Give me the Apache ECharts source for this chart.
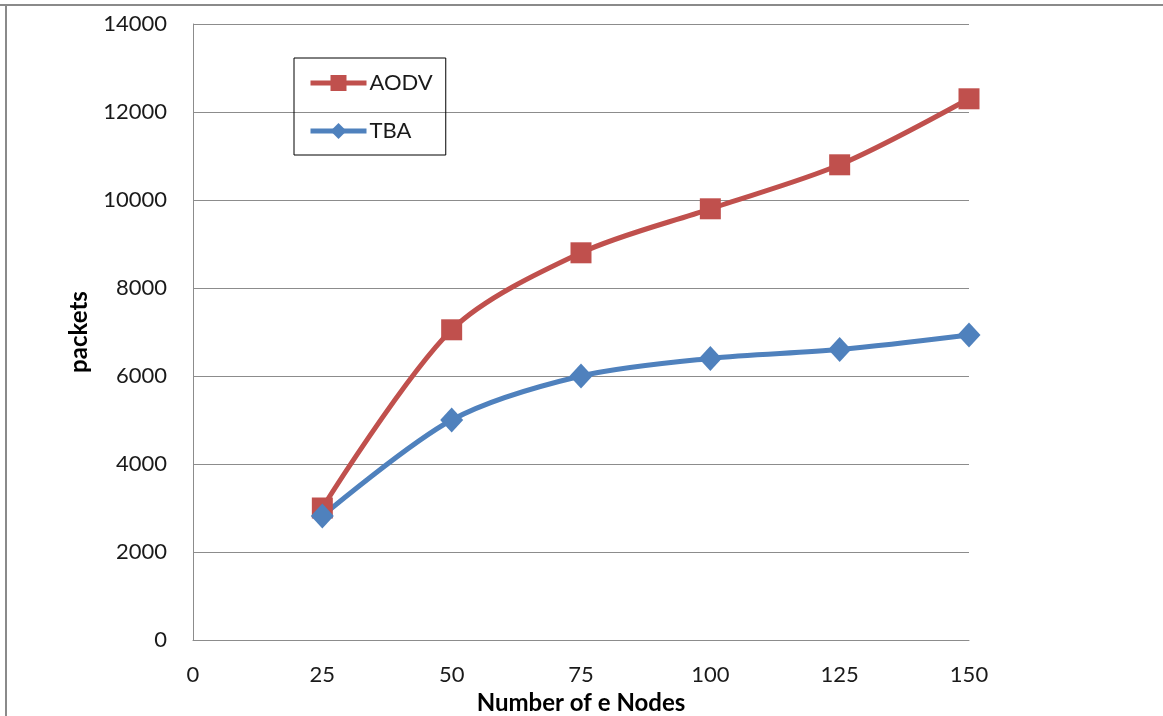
<!DOCTYPE html>
<html>
<head>
<meta charset="utf-8">
<script src="https://cdn.jsdelivr.net/npm/echarts@6/dist/echarts.min.js"></script>
<style>
  html, body { margin: 0; padding: 0; background: #fff; }
  #chart { width: 1163px; height: 716px; }
</style>
</head>
<body>
<div id="chart"></div>
<script>
// Node counts on the x axis and packet totals per protocol
const nodes = [25, 50, 75, 100, 125, 150];
const aodv = [3000, 7050, 8800, 9800, 10800, 12300];
const tba = [2820, 5000, 6000, 6400, 6600, 6930];

const FONT = 'Lato, "Open Sans", sans-serif';

const chart = echarts.init(document.getElementById('chart'));
chart.setOption({
  animation: false,
  backgroundColor: '#fff',
  grid: { left: 193, top: 24, right: 194, bottom: 76, outerBoundsMode: 'none' },
  xAxis: {
    type: 'value', min: 0, max: 150, interval: 25,
    name: 'Number of e Nodes', nameLocation: 'middle', nameGap: 45,
    nameTextStyle: { fontFamily: FONT, fontWeight: 'bold', fontSize: 24, color: '#000' },
    axisLine: { lineStyle: { color: '#8c8c8c', width: 1 } },
    axisTick: { show: false },
    splitLine: { show: false },
    axisLabel: { margin: 24, fontFamily: FONT, fontSize: 22, color: '#1a1a1a' }
  },
  yAxis: {
    type: 'value', min: 0, max: 14000, interval: 2000,
    name: 'packets', nameLocation: 'middle', nameGap: 102, nameRotate: 90,
    nameTextStyle: { fontFamily: FONT, fontWeight: 'bold', fontSize: 24, color: '#000' },
    axisLine: { show: true, lineStyle: { color: '#8c8c8c', width: 1 } },
    axisTick: { show: false },
    splitLine: { lineStyle: { color: '#8c8c8c', width: 1 } },
    axisLabel: { margin: 26, fontFamily: FONT, fontSize: 22, color: '#1a1a1a', formatter: v => String(v) }
  },
  legend: {
    orient: 'vertical', left: 294, top: 58,
    padding: [14, 13, 13, 14],
    itemGap: 26, itemWidth: 56, itemHeight: 20,
    borderColor: '#000', borderWidth: 1,
    lineStyle: { width: 5 },
    textStyle: { fontFamily: FONT, fontSize: 22, color: '#1a1a1a', padding: [0, 0, 0, -2] },
    data: ['AODV', 'TBA']
  },
  graphic: [
    { type: 'line', shape: { x1: 0, y1: 5, x2: 1163, y2: 5 }, style: { stroke: '#8a8a8a', lineWidth: 2 } },
    { type: 'line', shape: { x1: 6, y1: 4, x2: 6, y2: 716 }, style: { stroke: '#8a8a8a', lineWidth: 2 } }
  ],
  series: [
    {
      name: 'AODV', type: 'line', smooth: 0.3,
      data: nodes.map((n, i) => [n, aodv[i]]),
      symbol: 'rect', symbolSize: 21,
      lineStyle: { color: '#c0504d', width: 5 },
      itemStyle: { color: '#c0504d' }
    },
    {
      name: 'TBA', type: 'line', smooth: 0.3,
      data: nodes.map((n, i) => [n, tba[i]]),
      symbol: 'diamond', symbolSize: [23, 25],
      lineStyle: { color: '#4f81bd', width: 5 },
      itemStyle: { color: '#4f81bd' }
    }
  ]
});
</script>
</body>
</html>
